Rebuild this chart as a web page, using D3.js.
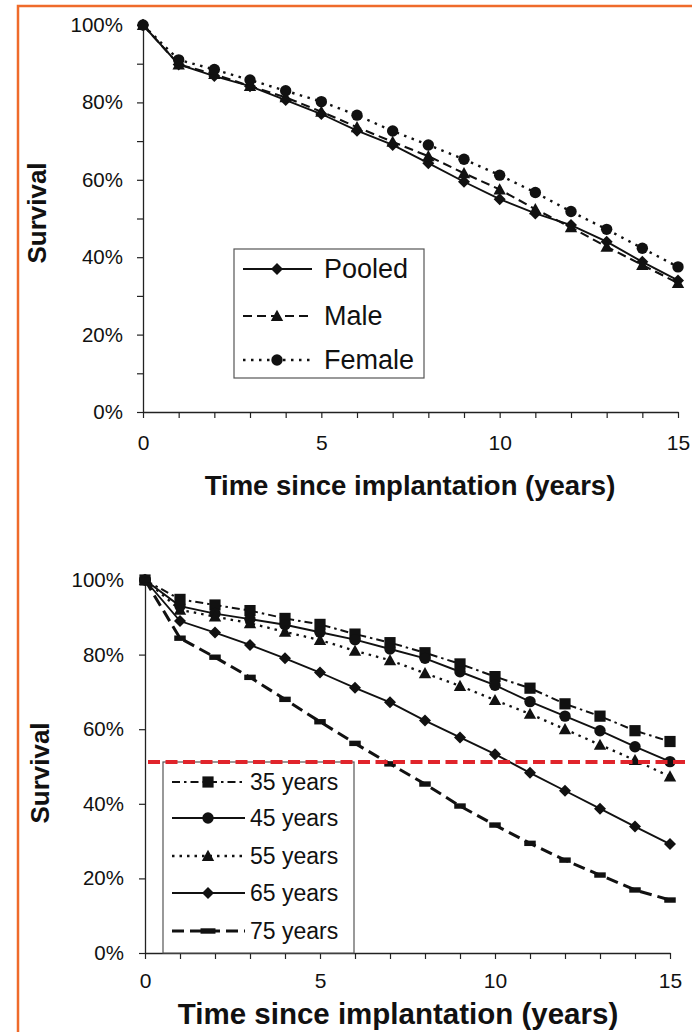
<!DOCTYPE html>
<html>
<head>
<meta charset="utf-8">
<script src="https://cdn.jsdelivr.net/npm/d3@7"></script>
<style>
  body { margin: 0; background: #fff; }
  svg { display: block; }
  text { font-family: "Liberation Sans", Arial, Helvetica, sans-serif; fill: #111; }
</style>
</head>
<body>
<svg id="chart" width="692" height="1032"></svg>
<script>
// ---- data: implant survival (%) by years since implantation ----
const years = [0, 1, 2, 3, 4, 5, 6, 7, 8, 9, 10, 11, 12, 13, 14, 15];

// Panel A: by sex
const pooled = [100, 89.8, 86.8, 84.2, 80.6, 77.0, 72.7, 69.0, 64.3, 59.5, 55.0, 51.3, 48.3, 44.0, 38.8, 34.0];
const male   = [100, 89.8, 87.3, 84.2, 81.3, 77.6, 73.6, 69.8, 66.1, 61.7, 57.5, 52.4, 47.7, 42.7, 38.0, 33.3];
const female = [100, 91.0, 88.5, 85.8, 83.0, 80.2, 76.7, 72.6, 69.0, 65.3, 61.2, 56.7, 51.8, 47.2, 42.3, 37.5];

// Panel B: by age at implantation
const age35 = [100, 94.8, 93.3, 91.8, 89.7, 88.1, 85.5, 83.2, 80.5, 77.5, 74.1, 71.0, 66.8, 63.5, 59.6, 56.7];
const age45 = [100, 93.0, 91.0, 89.5, 88.0, 86.0, 84.0, 81.5, 79.0, 75.4, 71.8, 67.4, 63.5, 59.6, 55.3, 51.3];
const age55 = [100, 92.0, 90.2, 88.4, 86.1, 83.9, 81.0, 78.5, 75.0, 71.6, 67.8, 64.1, 60.0, 55.8, 51.7, 47.3];
const age65 = [100, 89.0, 85.9, 82.6, 79.0, 75.2, 71.1, 67.2, 62.3, 57.8, 53.3, 48.3, 43.5, 38.7, 33.9, 29.2];
const age75 = [100, 84.4, 79.3, 73.9, 68.0, 62.0, 56.2, 50.7, 45.3, 39.4, 34.3, 29.4, 24.9, 20.9, 16.9, 14.2];

const sexLabels = ["Pooled", "Male", "Female"];
const ageLabels = ["35 years", "45 years", "55 years", "65 years", "75 years"];

const yLabelTicks = [0, 20, 40, 60, 80, 100];
const yMinorTicksA = [0, 10, 20, 30, 40, 50, 60, 70, 80, 90, 100];
const xLabelTicks = [0, 5, 10, 15];

const medianSurvival = 51.2;   // reference level marked in panel B

const yTitle = "Survival";
const xTitle = "Time since implantation (years)";

// ---- drawing ----
const svg = d3.select("#chart");

// orange page frame (top and left edges)
svg.append("path")
  .attr("d", "M18,1032 V6 H692")
  .attr("fill", "none")
  .attr("stroke", "#ef6b2b")
  .attr("stroke-width", 2.5);

// marker shapes
function drawMarker(g, type, cx, cy, big) {
  const s = big ? 1.3 : 1;
  if (type === "diamond") {
    const r = 6;
    g.append("path").attr("d", `M${cx},${cy - r}L${cx + r},${cy}L${cx},${cy + r}L${cx - r},${cy}Z`).attr("fill", "#111");
  } else if (type === "triangle") {
    const r = 6.2;
    g.append("path").attr("d", `M${cx},${cy - r}L${cx + r},${cy + r * 0.8}L${cx - r},${cy + r * 0.8}Z`).attr("fill", "#111");
  } else if (type === "circle") {
    g.append("circle").attr("cx", cx).attr("cy", cy).attr("r", 5.7).attr("fill", "#111");
  } else if (type === "square") {
    g.append("rect").attr("x", cx - 5.6).attr("y", cy - 5.6).attr("width", 11.2).attr("height", 11.2).attr("fill", "#111");
  } else if (type === "bar") {
    const w = 11.5 * s;
    g.append("rect").attr("x", cx - w / 2).attr("y", cy - 2.7).attr("width", w).attr("height", 5.4).attr("fill", "#111");
  }
}

function panel(cfg) {
  const g = svg.append("g");
  const x = d3.scaleLinear().domain([0, 15]).range(cfg.xRange);
  const y = d3.scaleLinear().domain([0, 100]).range(cfg.yRange);

  // y axis
  const yAxis = d3.axisLeft(y)
    .tickValues(cfg.yTicks)
    .tickSize(6)
    .tickSizeOuter(0)
    .tickPadding(cfg.yPad)
    .tickFormat(d => yLabelTicks.includes(d) ? d + "%" : "");
  const ya = g.append("g").attr("transform", `translate(${cfg.xRange[0]},0)`).call(yAxis);
  ya.selectAll("text").style("font-size", "20.5px").attr("fill", "#111");

  // x axis
  const xAxis = d3.axisBottom(x)
    .tickValues(years)
    .tickSize(6)
    .tickSizeOuter(0)
    .tickPadding(cfg.xPad)
    .tickFormat(d => xLabelTicks.includes(d) ? d : "");
  const xa = g.append("g").attr("transform", `translate(0,${cfg.yRange[0]})`).call(xAxis);
  xa.selectAll("text").style("font-size", "21px").attr("fill", "#111");

  [ya, xa].forEach(a => {
    a.select(".domain").attr("stroke", "#222").attr("stroke-width", 1.3);
    a.selectAll(".tick line").attr("stroke", "#222").attr("stroke-width", 1.2);
  });

  // axis titles
  g.append("text")
    .attr("transform", `translate(${cfg.yTitleX},${cfg.yTitleY}) rotate(-90)`)
    .attr("text-anchor", "middle")
    .style("font-size", "26px").style("font-weight", "bold")
    .text(yTitle);
  g.append("text")
    .attr("x", cfg.xTitleX).attr("y", cfg.xTitleY)
    .attr("text-anchor", "middle")
    .style("font-size", cfg.xTitleSize + "px").style("font-weight", "bold")
    .text(xTitle);

  // series lines and markers
  const line = d3.line().x((d, i) => x(years[i])).y(d => y(d));
  cfg.series.forEach(s => {
    g.append("path")
      .attr("d", line(s.values))
      .attr("fill", "none")
      .attr("stroke", "#111")
      .attr("stroke-width", s.width)
      .attr("stroke-dasharray", s.dash || null);
  });
  cfg.series.forEach(s => {
    const mg = g.append("g");
    s.values.forEach((v, i) => drawMarker(mg, s.marker, x(years[i]), y(v), false));
  });

  // legend
  const L = cfg.legend;
  const lg = g.append("g");
  lg.append("rect")
    .attr("x", L.x0).attr("y", L.y0)
    .attr("width", L.x1 - L.x0).attr("height", L.y1 - L.y0)
    .attr("fill", "#fff").attr("stroke", "#555").attr("stroke-width", 1.2);
  cfg.series.forEach((s, i) => {
    const cy = L.rows[i];
    lg.append("line")
      .attr("x1", L.lineX0).attr("x2", L.lineX1)
      .attr("y1", cy).attr("y2", cy)
      .attr("stroke", "#111")
      .attr("stroke-width", s.width)
      .attr("stroke-dasharray", s.dash || null);
    drawMarker(lg, s.marker, L.markX, cy, true);
    lg.append("text")
      .attr("x", L.textX).attr("y", cy)
      .attr("dy", "0.35em")
      .style("font-size", L.size + "px")
      .text(s.label);
  });

  return { g, x, y };
}

// Panel A: survival by sex
panel({
  xRange: [143, 678],
  yRange: [412, 25],
  yTicks: yMinorTicksA,
  yPad: 14,
  xPad: 17,
  yTitleX: 46, yTitleY: 213,
  xTitleX: 410, xTitleY: 495, xTitleSize: 27.5,
  series: [
    { label: sexLabels[0], values: pooled, marker: "diamond", width: 1.9, dash: null },
    { label: sexLabels[1], values: male, marker: "triangle", width: 2.1, dash: "9,5" },
    { label: sexLabels[2], values: female, marker: "circle", width: 2.4, dash: "2.5,5.5" }
  ],
  legend: { x0: 234, x1: 424, y0: 249, y1: 378, rows: [269, 316, 360],
            lineX0: 243, lineX1: 312, markX: 277, textX: 324, size: 27 }
});

// Panel B: survival by age at implantation
const B = panel({
  xRange: [145, 670],
  yRange: [953, 580],
  yTicks: yLabelTicks,
  yPad: 15,
  xPad: 14,
  yTitleX: 49, yTitleY: 773,
  xTitleX: 398, xTitleY: 1024, xTitleSize: 29.5,
  series: [
    { label: ageLabels[0], values: age35, marker: "square", width: 2.0, dash: "8,4,2.5,4" },
    { label: ageLabels[1], values: age45, marker: "circle", width: 1.9, dash: null },
    { label: ageLabels[2], values: age55, marker: "triangle", width: 2.3, dash: "2.5,5" },
    { label: ageLabels[3], values: age65, marker: "diamond", width: 1.9, dash: null },
    { label: ageLabels[4], values: age75, marker: "bar", width: 3.0, dash: "12,6" }
  ],
  legend: { x0: 163, x1: 354, y0: 762, y1: 953, rows: [782, 818, 856, 893, 931],
            lineX0: 172, lineX1: 245, markX: 208, textX: 250, size: 23 }
});

// red dashed reference line at the median survival level
B.g.append("line")
  .attr("x1", B.x(0) + 3).attr("x2", 688)
  .attr("y1", B.y(medianSurvival)).attr("y2", B.y(medianSurvival))
  .attr("stroke", "#e0242b")
  .attr("stroke-width", 3.8)
  .attr("stroke-dasharray", "12,5.5");
</script>
</body>
</html>
